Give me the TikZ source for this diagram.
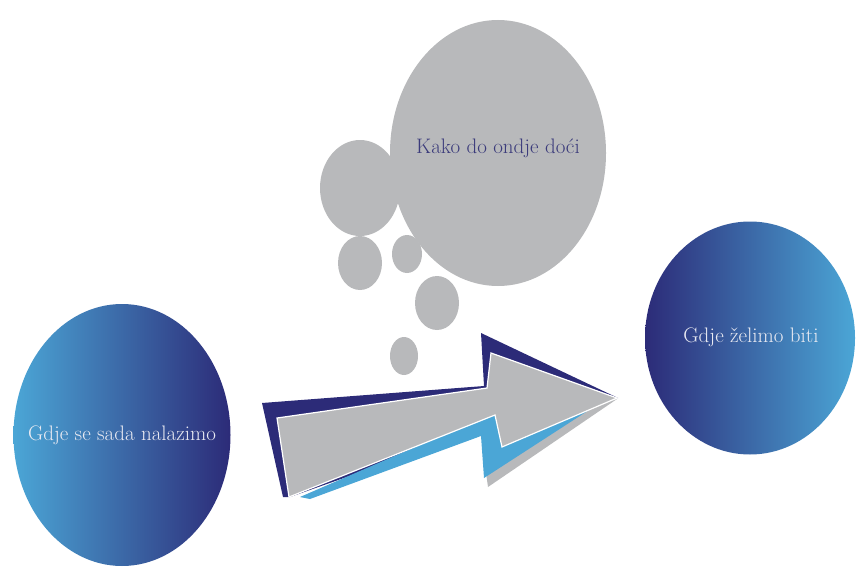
\documentclass[tikz,border=0pt]{standalone}
\usetikzlibrary{shapes.geometric}
\definecolor{navy}{HTML}{2C2B78}
\definecolor{lightb}{HTML}{4BA6D6}
\definecolor{bubble}{HTML}{B8B9BB}
\definecolor{bubtext}{HTML}{3B3B7B}
\definecolor{eltext}{HTML}{E9EAF2}
\tikzset{
  goal/.style={ellipse, inner sep=0pt},
  goaltext/.style={text=eltext, font=\fontsize{21}{24}\selectfont, inner sep=0pt},
  bub/.style={ellipse, fill=bubble, inner sep=0pt},
}
\begin{document}
\begin{tikzpicture}[x=1pt,y=-1pt]
\useasboundingbox (0,0) rectangle (856,567);
% thought bubbles
\node[bub, minimum width=80pt, minimum height=96pt] (m1) at (360,188) {};
\node[bub, minimum width=44pt, minimum height=54pt] (s1) at (360,263) {};
\node[bub, minimum width=30pt, minimum height=38pt] (s2) at (407,254) {};
\node[bub, minimum width=44pt, minimum height=54pt] (s3) at (437,303) {};
\node[bub, minimum width=28pt, minimum height=38pt] (s4) at (404,356) {};
\node[bub, minimum width=216pt, minimum height=266pt] (big) at (498,153) {};
\node[text=bubtext, font=\fontsize{21}{24}\selectfont, inner sep=0pt] (bigt) at (498,148) {Kako do ondje doći};
% arrow
\fill[navy] (262,403) -- (484,386) -- (481,333) -- (618,398) -- (480,430) -- (290,497) -- (283,497) -- cycle;
\fill[bubble] (482,445) -- (488,487) -- (617,399) -- (560,415) -- cycle;
\fill[lightb] (300,497) -- (496,412) -- (503,446) -- (606,399) -- (484,478) -- (481,436) -- (310,499) -- cycle;
\fill[bubble, draw=white, line width=1.2pt] (277,418) -- (487,388) -- (491,353) -- (617,398) -- (502,447) -- (495,415) -- (289,497) -- cycle;
% goals
\node[goal, minimum width=217pt, minimum height=262pt, left color=lightb, right color=navy] (now) at (122,435) {};
\node[goaltext] (nowt) at (now.center) {Gdje se sada nalazimo};
\node[goal, minimum width=210pt, minimum height=233pt, left color=navy, right color=lightb] (want) at (750,338) {};
\node[goaltext] (wantt) at (751,337) {Gdje želimo biti};
\end{tikzpicture}
\end{document}
